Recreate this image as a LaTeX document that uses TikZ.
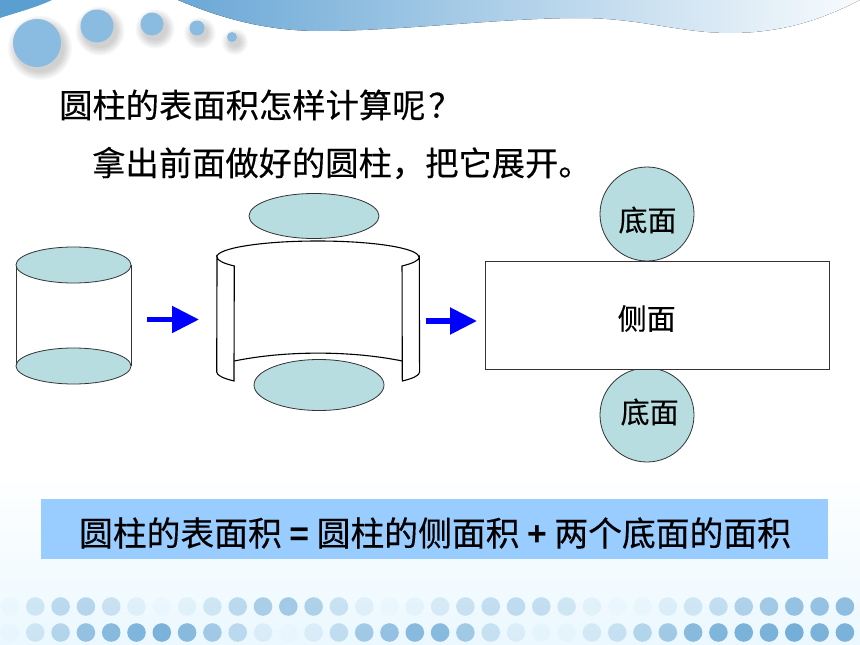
\documentclass[tikz,border=0pt]{standalone}
\usepackage{fontspec}
\usepackage{xcolor}
\usepackage{tikz}
\usetikzlibrary{arrows.meta}
\newfontfamily\cjk[FakeBold=0.3]{Noto Sans CJK SC}
\newfontfamily\arialbold{Liberation Sans Bold}
\definecolor{capfill}{HTML}{B7DDE1}
\definecolor{bubblefill}{HTML}{8ABBE0}
\definecolor{dotfill}{HTML}{6FABD6}
\definecolor{barfill}{HTML}{99CCFF}
\definecolor{edgegray}{HTML}{333333}
\tikzset{
  capdisc/.style={fill=capfill,draw=edgegray,line width=.8},
  bluearrow/.style={draw=blue,line width=5.2,-{Triangle[length=27,width=26,fill=blue]}},
  sheet/.style={draw=black,line width=1.1},
  bigtext/.style={font=\cjk\fontsize{33.3}{36}\selectfont,text=black,inner sep=0},
  tagtext/.style={font=\cjk\fontsize{29}{31}\selectfont,text=black,inner sep=0}
}
\newcommand{\bubble}[3]{%
  \foreach \s in {8,6.5,5,3.5,2,.5}
    \fill[black,opacity=.03] (#1+3,#2+5) circle (#3+\s);
  \fill[bubblefill] (#1,#2) circle (#3);}
\begin{document}
\begin{tikzpicture}[x=1pt,y=-1pt]
  \useasboundingbox (0,0) rectangle (860,645);
  % page ground
  \fill[white] (0,0) rectangle (860,645);
  \fill[top color=white,bottom color=blue!35!cyan!8!white,draw=none] (0,470) rectangle (860,645);
  % top band
  \fill[color={rgb,255:red,90;green,159;blue,208}] (0,0) -- (52,0) .. controls (35,8) and (15,13) .. (0,18) -- cycle;
  \fill[left color={rgb,255:red,106;green,168;blue,214},middle color={rgb,255:red,190;green,216;blue,236},right color={rgb,255:red,248;green,251;blue,253}]
    (178,0) .. controls (225,20) and (270,31) .. (320,31)
    .. controls (400,31) and (500,18) .. (580,18)
    .. controls (640,18) and (680,33) .. (730,33)
    .. controls (790,33) and (830,15) .. (860,0) -- cycle;
  \bubble{37}{43}{24}
  \bubble{97}{26}{16.5}
  \bubble{152}{24}{11.5}
  \bubble{197}{28}{7.5}
  \bubble{232}{37}{5}
  % dots along the bottom
  \foreach \op [count=\i from 0] in {.03,.25,.4,.45,.3,.12,.03,.1,.25,.4,.55,.6,.5,.3,.12,.03,.08,.2,.3,.35,.38,.35,.25,.1,.03,.05,.15,.25,.35,.5,.6,.7,.7,.75}
    \fill[dotfill,opacity=\op] (10+25.3*\i,606.5) circle (9.3);
  \foreach \op [count=\i from 0] in {.03,.25,.45,.7,.8,.85,.9,.8,.6,.4,.15,.03,.15,.35,.6,.7,.8,.8,.6,.3,.15,.05,.05,.2,.3,.45,.6,.8,.85,.9,.9,.95,.9,.9}
    \fill[dotfill,opacity=\op] (10+25.3*\i,632.5) circle (9.3);
  % headings
  \node[bigtext,anchor=west] (askline) at (59,105) {圆柱的表面积怎样计算呢\hspace{3pt}？};
  \node[bigtext,anchor=west] (openline) at (92,163) {拿出前面做好的圆柱，把它展开。};
  % whole cylinder
  \draw[edgegray,line width=.8] (16,265) -- (16,366);
  \draw[edgegray,line width=.8] (131,265) -- (131,366);
  \filldraw[capdisc] (73.5,265) ellipse [x radius=57.5,y radius=18];
  \filldraw[capdisc] (73.5,366) ellipse [x radius=57.5,y radius=18];
  % opened cylinder
  \filldraw[capdisc] (314,216) ellipse [x radius=65,y radius=22.5];
  \filldraw[capdisc] (319,385) ellipse [x radius=65,y radius=25.5];
  \draw[sheet] (216.7,372) arc[start angle=180,end angle=146,x radius=101,y radius=16]
    -- (234.3,266) arc[start angle=146,end angle=180,x radius=101,y radius=16]
    -- cycle;
  \draw[sheet] (216.7,257) arc[start angle=180,end angle=360,x radius=101,y radius=16];
  \draw[sheet] (419.3,257) arc[start angle=0,end angle=34,x radius=101,y radius=16]
    -- (402.3,381) arc[start angle=34,end angle=0,x radius=101,y radius=16] -- cycle;
  \draw[sheet] (234.3,361) .. controls (285,350.5) and (351,350.5) .. (402.3,361);
  % arrows
  \coordinate (arrowa) at (147,319.5);
  \coordinate (arrowb) at (199,319.5);
  \coordinate (arrowc) at (425.5,321);
  \coordinate (arrowd) at (477,321);
  \draw[bluearrow] (arrowa) -- (arrowb);
  \draw[bluearrow] (arrowc) -- (arrowd);
  % the flat pattern
  \filldraw[capdisc] (647,214) circle (47);
  \filldraw[capdisc] (647,415) circle (47);
  \draw[edgegray,line width=.9,fill=white] (485.5,261.5) rectangle (829.5,369);
  \node[tagtext] (uppercap) at (647.5,220) {底面};
  \node[tagtext] (sidewall) at (646.7,318.5) {侧面};
  \node[tagtext] (lowercap) at (649.6,412) {底面};
  % formula bar
  \fill[barfill] (41,499) rectangle (828,559);
  \node[font=\cjk\fontsize{33.8}{36}\selectfont,inner sep=0] (formula) at (435,533) {圆柱的表面积 {\arialbold =} 圆柱的侧面积 {\arialbold +} 两个底面的面积};
\end{tikzpicture}
\end{document}
